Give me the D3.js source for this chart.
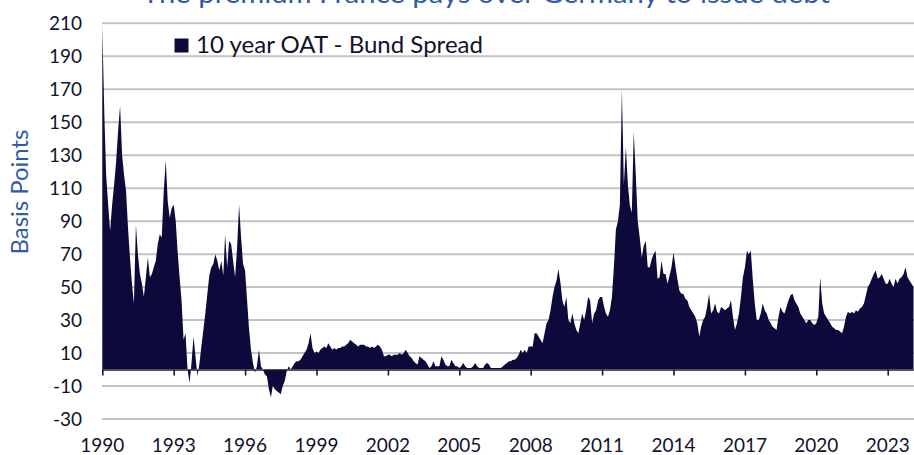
<!DOCTYPE html>
<html>
<head>
<meta charset="utf-8">
<script src="https://cdn.jsdelivr.net/npm/d3@7"></script>
<style>
  html, body { margin: 0; padding: 0; background: #ffffff; overflow: hidden; }
  svg { display: block; }
</style>
</head>
<body>
<svg id="chart" width="914" height="455"></svg>
<script>
// ---- Data (monthly, basis points, from Jan 1990) ----
const startYear = 1990;
const spread1990s = [
  209,155,118,100,84,100,112,126,145,160,130,118,
  108,85,68,52,40,88,70,58,52,44,56,68,
  56,58,62,66,76,82,80,108,127,102,92,98,
  100,90,72,56,42,18,22,0,-8,4,20,8,
  -4,4,14,24,34,46,57,62,64,70,66,60,
  66,57,82,62,78,76,66,56,74,100,80,64,
  60,42,25,12,4,-2,2,12,2,0,-3,-4,
  -12,-17,-10,-12,-13,-14,-15,-10,-7,-1,2,0,
  2,4,5,5,6,8,10,12,16,22,13,10,
  11,10,12,13,14,13,16,14,12,13,12,13
];
const spread2000s = [
  13,14,14,15,16,18,17,16,15,14,15,15,
  15,14,14,13,14,13,14,15,14,12,8,8,
  9,9,8,9,9,9,10,9,10,12,10,8,
  7,5,4,3,8,7,6,5,3,1,2,5,
  2,2,2,8,6,3,2,2,6,4,2,2,
  1,2,4,2,1,1,1,2,4,2,1,1,
  1,3,4,3,1,1,1,1,1,1,2,3,
  4,5,5,6,6,7,9,12,10,12,10,14,
  14,14,22,22,20,18,16,22,28,30,36,44,
  50,54,61,53,42,38,44,30,28,34,28,24
];
const spread2010s = [
  22,28,34,30,36,44,42,28,34,36,42,44,
  44,38,34,32,36,44,62,85,90,100,170,112,
  135,112,100,95,144,118,90,80,68,75,78,62,
  62,67,70,72,55,56,66,58,58,52,57,62,
  71,62,55,48,46,46,43,42,38,36,34,32,
  28,20,26,30,32,38,46,34,36,40,35,34,
  38,37,36,37,38,42,32,24,28,34,44,56,
  62,72,70,72,55,40,30,30,34,40,36,34,
  30,28,26,25,24,32,38,35,34,38,42,45,
  46,42,40,38,34,32,30,28,30,30,28,27
];
const spread2020s = [
  28,32,56,40,34,32,30,28,26,25,24,24,
  23,22,26,32,35,34,35,34,36,35,37,38,
  40,45,50,52,55,58,60,55,56,58,55,52,
  52,55,52,50,55,52,55,56,58,62,56,54,
  52,50
];
const yearTicks = [1990,1993,1996,1999,2002,2005,2008,2011,2014,2017,2020,2023];
const valueTicks = [-30,-10,10,30,50,70,90,110,130,150,170,190,210];
const titleText = "The premium France pays over Germany to issue debt";
const seriesName = "10 year OAT - Bund Spread";
const axisTitle = "Basis Points";

// ---- Build series ----
const allValues = [].concat(spread1990s, spread2000s, spread2010s, spread2020s);
const series = allValues.map((v, i) => ({
  date: new Date(Date.UTC(startYear + Math.floor(i / 12), i % 12, 1)),
  value: v
}));

const W = 914, H = 455;
const svg = d3.select("#chart");
const font = "Lato, 'Open Sans', sans-serif";
const navy = "#0b0a3a";
const blue = "#2f5ba8";
const textDark = "#12122c";

const x = d3.scaleUtc()
  .domain([new Date(Date.UTC(1990,0,1)), new Date(Date.UTC(2023,0,1))])
  .range([102.3, 887.7]);
const y = d3.scaleLinear().domain([-30, 210]).range([419, 23.3]);

// gridlines
svg.append("g").selectAll("line").data(valueTicks).join("line")
  .attr("x1", 102).attr("x2", W)
  .attr("y1", d => y(d)).attr("y2", d => y(d))
  .attr("stroke", "#c3c3c6").attr("stroke-width", 2);

// area
const area = d3.area()
  .x(d => x(d.date))
  .y0(y(0))
  .y1(d => y(d.value))
  .curve(d3.curveLinear);
svg.append("path").datum(series)
  .attr("d", area)
  .attr("fill", navy);

// zero axis with ticks
const xAxis = d3.axisBottom(x)
  .tickValues(yearTicks.map(t => new Date(Date.UTC(t,0,1))))
  .tickSize(6)
  .tickFormat("");
const gx = svg.append("g").attr("transform", `translate(0,${y(0)})`).call(xAxis);
gx.select(".domain").attr("d", `M102.3,0.5H${W}`).attr("stroke", "#1a1a2e").attr("stroke-width", 1.2);
gx.selectAll(".tick line").attr("stroke", "#1a1a2e").attr("stroke-width", 1.6);

// year labels
svg.append("g").selectAll("text").data(yearTicks).join("text")
  .attr("x", d => x(new Date(Date.UTC(d,0,1))))
  .attr("y", 452)
  .attr("text-anchor", "middle")
  .attr("font-family", font).attr("font-size", 19)
  .attr("fill", textDark)
  .text(d => d);

// value labels
svg.append("g").selectAll("text").data(valueTicks).join("text")
  .attr("x", 82)
  .attr("y", d => y(d) + 6.8)
  .attr("text-anchor", "end")
  .attr("font-family", font).attr("font-size", 19)
  .attr("fill", textDark)
  .text(d => d);

// title (partly outside the top edge, as in the reference)
svg.append("text")
  .attr("x", 142).attr("y", 3)
  .attr("font-family", font).attr("font-size", 27)
  .attr("fill", blue)
  .attr("textLength", 688).attr("lengthAdjust", "spacingAndGlyphs")
  .text(titleText);

// axis title
svg.append("text")
  .attr("transform", "translate(28,192) rotate(-90)")
  .attr("text-anchor", "middle")
  .attr("font-family", font).attr("font-size", 23)
  .attr("fill", blue)
  .attr("textLength", 125).attr("lengthAdjust", "spacingAndGlyphs")
  .text(axisTitle);

// legend
svg.append("rect")
  .attr("x", 174.5).attr("y", 38.5).attr("width", 14).attr("height", 14)
  .attr("fill", navy);
svg.append("text")
  .attr("x", 196).attr("y", 52.7)
  .attr("font-family", font).attr("font-size", 23)
  .attr("fill", textDark)
  .attr("textLength", 287).attr("lengthAdjust", "spacingAndGlyphs")
  .text(seriesName);
</script>
</body>
</html>
